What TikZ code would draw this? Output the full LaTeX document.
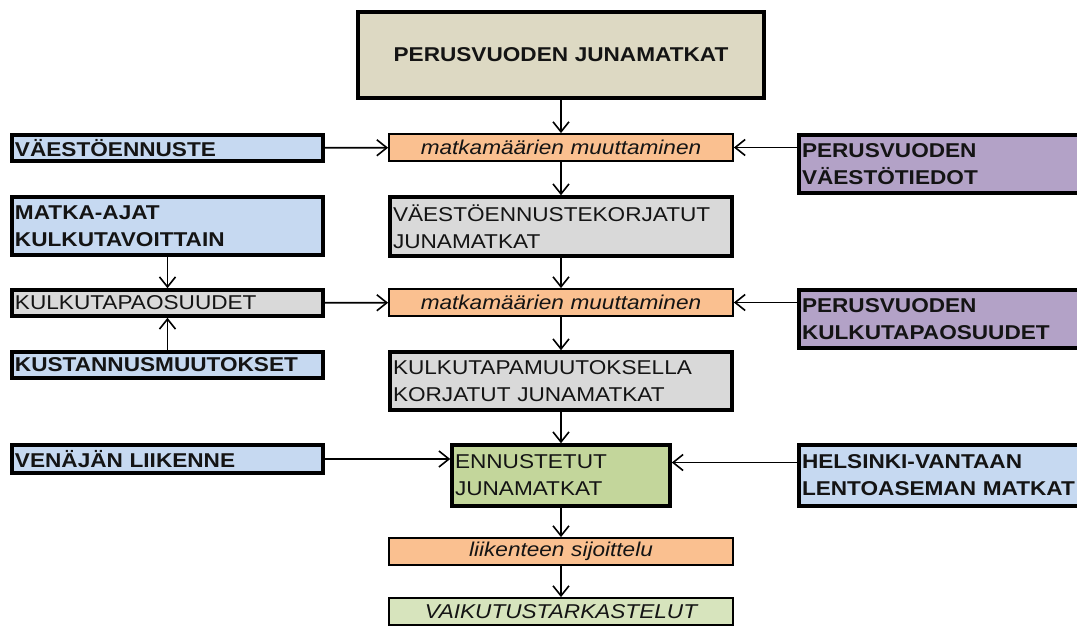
\documentclass[tikz,border=0pt]{standalone}
\usepackage{fontspec}
\setmainfont{Liberation Sans}[FakeStretch=1.13]
\usetikzlibrary{arrows.meta}
\definecolor{tan}{HTML}{DDD9C3}
\definecolor{orng}{HTML}{FAC090}
\definecolor{lblue}{HTML}{C6D9F1}
\definecolor{purp}{HTML}{B3A2C7}
\definecolor{gry}{HTML}{D9D9D9}
\definecolor{grn}{HTML}{C3D69B}
\definecolor{lgrn}{HTML}{D7E4BD}
\tikzset{
  base/.style={rectangle, inner xsep=3pt, inner ysep=0pt, align=left, text=black!92,
    font=\fontsize{20}{27}\selectfont},
  tb/.style n args={3}{base, draw, line width=3.6pt, fill=#1, text width=#2, minimum height=#3},
  bf/.style={font=\fontsize{20}{27}\selectfont\bfseries},
  ob/.style={base, draw, line width=1.8pt, fill=orng, text width=338pt, minimum height=27pt,
    align=center, font=\fontsize{20}{27}\selectfont\itshape},
  arr/.style={line width=1.8pt, -{Straight Barb[length=10pt,width=16pt,line width=1.6pt]}},
}
\begin{document}
\begin{tikzpicture}[x=1pt,y=-1pt]
\useasboundingbox (0,0) rectangle (1077,625);
\clip (0,0) rectangle (1077,625);
% central column
\node[tb={tan}{400pt}{86pt}, align=center, bf] (top) at (561,55) {PERUSVUODEN JUNAMATKAT};
\node[ob] (o1) at (561,147.5) {matkamäärien muuttaminen};
\node[tb={gry}{336pt}{59pt}] (g1) at (561,226.5) {VÄESTÖENNUSTEKORJATUT\\JUNAMATKAT};
\node[ob] (o2) at (561,302.5) {matkamäärien muuttaminen};
\node[tb={gry}{336pt}{58pt}] (g2) at (561,381) {KULKUTAPAMUUTOKSELLA\\KORJATUT JUNAMATKAT};
\node[tb={grn}{212pt}{61pt}] (enn) at (561,475.5) {ENNUSTETUT\\JUNAMATKAT};
\node[ob] (o3) at (561,551.5) {liikenteen sijoittelu};
\node[ob, fill=lgrn] (vaik) at (561,611.5) {VAIKUTUSTARKASTELUT};
% left column
\node[tb={lblue}{305pt}{26pt}, bf] (vaest) at (167.5,148) {VÄESTÖENNUSTE};
\node[tb={lblue}{305pt}{58pt}, bf] (matka) at (167.5,226) {MATKA-AJAT\\KULKUTAVOITTAIN};
\node[tb={gry}{305pt}{26pt}] (kulku) at (167.5,303) {KULKUTAPAOSUUDET};
\node[tb={lblue}{305pt}{26pt}, bf] (kust) at (167.5,365) {KUSTANNUSMUUTOKSET};
\node[tb={lblue}{305pt}{28pt}, bf] (ven) at (167.5,459) {VENÄJÄN LIIKENNE};
% right column
\node[tb={purp}{293pt}{58pt}, bf] (p1) at (948.5,164) {PERUSVUODEN\\VÄESTÖTIEDOT};
\node[tb={purp}{293pt}{58pt}, bf] (p2) at (948.5,319) {PERUSVUODEN\\KULKUTAPAOSUUDET};
\node[tb={lblue}{293pt}{61pt}, bf] (hel) at (948.5,475.5) {HELSINKI-VANTAAN\\LENTOASEMAN MATKAT};
% connectors
\draw[arr] (top) -- (o1);
\draw[arr] (o1) -- (g1);
\draw[arr] (g1) -- (o2);
\draw[arr] (o2) -- (g2);
\draw[arr] (g2) -- (enn);
\draw[arr] (enn) -- (o3);
\draw[arr] (o3) -- (vaik);
\draw[arr] (vaest) -- (o1);
\draw[arr] (p1.west |- o1.east) -- (o1.east);
\draw[arr] (matka) -- (kulku);
\draw[arr] (kust) -- (kulku);
\draw[arr] (kulku) -- (o2);
\draw[arr] (p2.west |- o2.east) -- (o2.east);
\draw[arr] (ven.east) -- (ven.east -| enn.west);
\draw[arr] ([yshift=13pt]hel.west) -- ([yshift=13pt]hel.west -| enn.east);
\end{tikzpicture}
\end{document}
